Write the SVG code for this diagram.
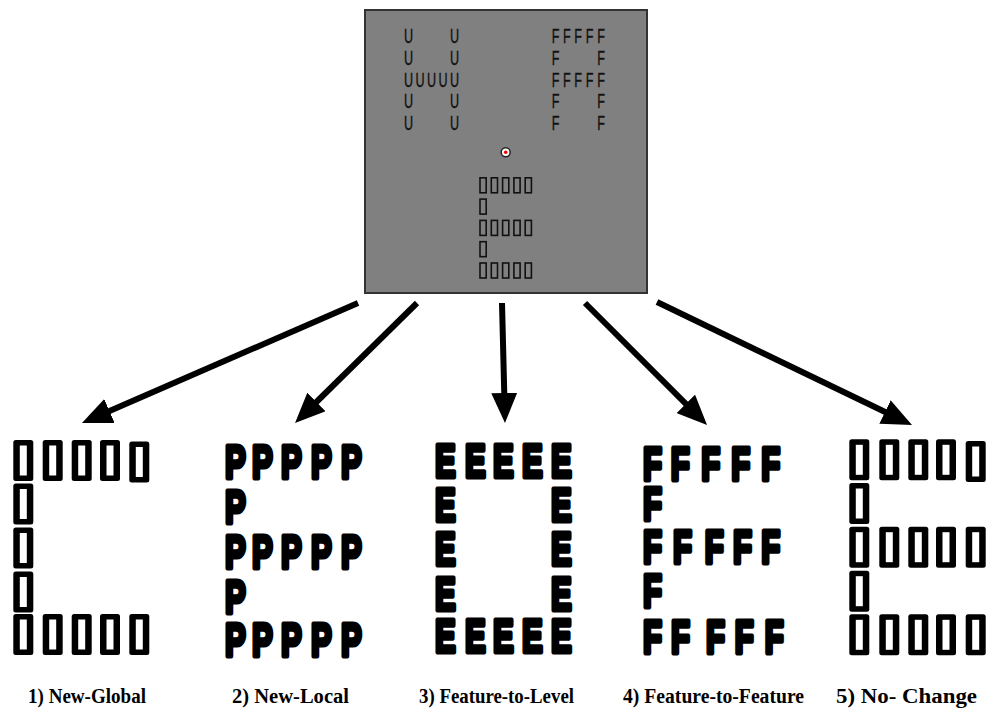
<svg xmlns="http://www.w3.org/2000/svg" xmlns:xlink="http://www.w3.org/1999/xlink" width="987" height="709" viewBox="0 0 987 709">
<style>
.sm{font-family:"Liberation Sans",Arial,sans-serif;font-size:21px;fill:#111;stroke:#111;stroke-width:0.4}
.big{font-family:"Liberation Sans",Arial,sans-serif;font-weight:bold;font-size:47px;fill:#000;stroke:#000;stroke-width:5;stroke-linejoin:round}
.lbl{font-family:"Liberation Serif","Times New Roman",serif;font-weight:bold;font-size:20px;fill:#000}
.st{fill:none;stroke:#111;stroke-width:1.6}
.arr{stroke:#000;stroke-width:6;fill:none;marker-end:url(#ah)}
</style>
<defs>
<marker id="ah" viewBox="0 -13 30 26" markerUnits="userSpaceOnUse" markerWidth="30" markerHeight="26" refX="10" refY="0" orient="auto">
<path d="M0,-13 L30,0 L0,13 z" fill="#000"/>
</marker>
<g id="bt"><rect width="20" height="41" rx="2.5" fill="#000"/><rect x="6.5" y="5.5" width="7" height="30" fill="#fff"/></g>
<rect id="sb" x="0.8" y="0.8" width="6.2" height="15" class="st"/>
</defs>
<rect width="987" height="709" fill="#fff"/>

<g id="stimulus">
<rect x="365" y="10" width="282" height="283" fill="#808080" stroke="#333" stroke-width="2"/>
<g transform="translate(404,0) scale(0.6,1)">
<text class="sm" x="0 76.7" y="43.3">UU</text>
<text class="sm" x="0 76.7" y="65">UU</text>
<text class="sm" x="0 19.2 38.3 57.5 76.7" y="86.7">UUUUU</text>
<text class="sm" x="0 76.7" y="108.3">UU</text>
<text class="sm" x="0 76.7" y="130">UU</text>
</g>
<g transform="translate(551.7,0) scale(0.6,1)">
<text class="sm" x="0 18.8 37.7 56.7 76" y="43.3">FFFFF</text>
<text class="sm" x="0 76" y="65">FF</text>
<text class="sm" x="0 18.8 37.7 56.7 76" y="86.7">FFFFF</text>
<text class="sm" x="0 76" y="108.3">FF</text>
<text class="sm" x="0 76" y="130">FF</text>
</g>
<circle cx="505.7" cy="152.3" r="4.5" fill="#fff" stroke="#222" stroke-width="1.5"/>
<circle cx="505.7" cy="152.3" r="1.8" fill="#e00"/>
<use href="#sb" x="479.2" y="177"/><use href="#sb" x="490.5" y="177"/><use href="#sb" x="501.8" y="177"/><use href="#sb" x="513.1" y="177"/><use href="#sb" x="524.4" y="177"/>
<use href="#sb" x="479.2" y="198.3"/>
<use href="#sb" x="479.2" y="219.6"/><use href="#sb" x="490.5" y="219.6"/><use href="#sb" x="501.8" y="219.6"/><use href="#sb" x="513.1" y="219.6"/><use href="#sb" x="524.4" y="219.6"/>
<use href="#sb" x="479.2" y="240.9"/>
<use href="#sb" x="479.2" y="262.2"/><use href="#sb" x="490.5" y="262.2"/><use href="#sb" x="501.8" y="262.2"/><use href="#sb" x="513.1" y="262.2"/><use href="#sb" x="524.4" y="262.2"/>
</g>

<g id="connectors">
<line class="arr" x1="358" y1="303" x2="100.3" y2="415"/>
<line class="arr" x1="417" y1="303" x2="309.3" y2="409"/>
<line class="arr" x1="502" y1="303" x2="504.5" y2="403"/>
<line class="arr" x1="585" y1="303" x2="692.9" y2="410.9"/>
<line class="arr" x1="657" y1="302" x2="894" y2="416.3"/>
</g>

<g id="new-global">
<use href="#bt" x="13.3" y="440"/><use href="#bt" x="42.7" y="440"/><use href="#bt" x="71.7" y="440"/><use href="#bt" x="100" y="440"/><use href="#bt" x="129.3" y="441.5"/>
<use href="#bt" x="13.3" y="483.5"/>
<use href="#bt" x="13.3" y="527.5"/>
<use href="#bt" x="13.3" y="571.5"/>
<use href="#bt" x="13.3" y="614"/><use href="#bt" x="42.7" y="614"/><use href="#bt" x="71.7" y="614"/><use href="#bt" x="100" y="614"/><use href="#bt" x="129.3" y="614"/>
<text class="lbl" x="28" y="703" textLength="118" lengthAdjust="spacingAndGlyphs">1) New-Global</text>
</g>

<g id="new-local">
<g transform="translate(225,0) scale(0.66,1)">
<text class="big" x="0 40.9 84.8 130.3 175.8" y="478">PPPPP</text>
<text class="big" x="0" y="523">P</text>
<text class="big" x="0 40.9 84.8 130.3 175.8" y="568">PPPPP</text>
<text class="big" x="0" y="613">P</text>
<text class="big" x="0 40.9 84.8 130.3 175.8" y="656">PPPPP</text>
</g>
<text class="lbl" x="232" y="703" textLength="117" lengthAdjust="spacingAndGlyphs">2) New-Local</text>
</g>

<g id="feature-to-level">
<g transform="translate(435,0) scale(0.66,1)">
<text class="big" x="0 45.5 87.9 131.8 175.8" y="477">EEEEE</text>
<text class="big" x="0 175.8" y="521.5">EE</text>
<text class="big" x="0 175.8" y="565">EE</text>
<text class="big" x="0 175.8" y="610">EE</text>
<text class="big" x="0 45.5 87.9 131.8 175.8" y="652">EEEEE</text>
</g>
<text class="lbl" x="419" y="703" textLength="155" lengthAdjust="spacingAndGlyphs">3) Feature-to-Level</text>
</g>

<g id="feature-to-feature">
<g transform="translate(643,0) scale(0.66,1)">
<text class="big" x="0 42 88.3 133.8 179.3" y="480">FFFFF</text>
<text class="big" x="0" y="520">F</text>
<text class="big" x="0 45.5 93.5 136.4 179.3" y="563">FFFFF</text>
<text class="big" x="0" y="607">F</text>
<text class="big" x="0 42.4 95.5 139 184.4" y="653">FFFFF</text>
</g>
<text class="lbl" x="623" y="703" textLength="181" lengthAdjust="spacingAndGlyphs">4) Feature-to-Feature</text>
</g>

<g id="no-change">
<use href="#bt" x="849.3" y="439.3"/><use href="#bt" x="879.3" y="439.3"/><use href="#bt" x="908.3" y="439.3"/><use href="#bt" x="936" y="439.3"/><use href="#bt" x="965.7" y="441"/>
<use href="#bt" x="849.3" y="483"/>
<use href="#bt" x="849.3" y="526.7"/><use href="#bt" x="879.3" y="526.7"/><use href="#bt" x="908.3" y="526.7"/><use href="#bt" x="936" y="526.7"/><use href="#bt" x="965.7" y="526.7"/>
<use href="#bt" x="849.3" y="570.7"/>
<use href="#bt" x="849.3" y="614.3"/><use href="#bt" x="879.3" y="614.3"/><use href="#bt" x="908.3" y="614.3"/><use href="#bt" x="936" y="614.3"/><use href="#bt" x="965.7" y="614.3"/>
<text class="lbl" x="836" y="703" textLength="141" lengthAdjust="spacingAndGlyphs">5) No- Change</text>
</g>
</svg>
